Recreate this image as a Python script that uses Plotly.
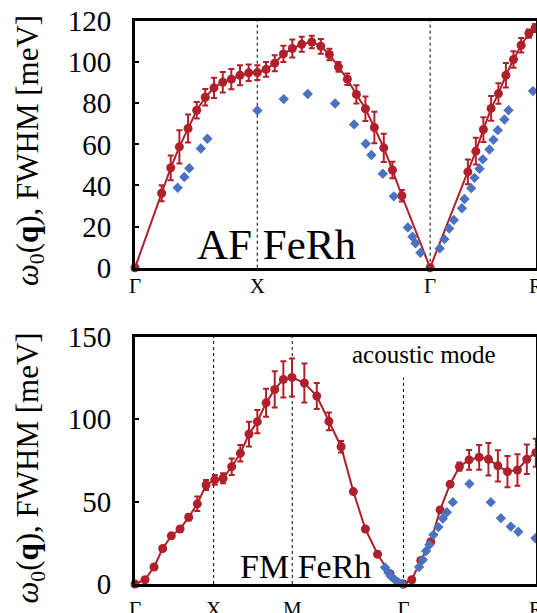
import math
import plotly.graph_objects as go

# ---------------- data: AF FeRh (top panel) ----------------
af_q = [0.0, 0.218, 0.292, 0.363, 0.434, 0.505, 0.575, 0.646, 0.718, 0.788, 0.859, 0.930,
        1.001, 1.072, 1.143, 1.214, 1.287, 1.364, 1.446, 1.520, 1.590, 1.664, 1.737, 1.811,
        1.885, 1.958, 2.035, 2.106, 2.183, 2.414, 2.723, 2.788, 2.850, 2.913, 2.973, 3.034,
        3.096, 3.159, 3.222, 3.273]
af_w = [0, 36.2, 48.6, 58.8, 67.7, 76.6, 82.9, 87.5, 90.2, 91.7, 93.6, 94.8,
        94.9, 96.5, 99.5, 104.0, 106.6, 108.7, 109.8, 107.7, 103.7, 97.7, 91.7, 84.3,
        77.3, 68.2, 58.3, 47.5, 35.0, 0, 46.6, 56.7, 67.2, 77.5, 84.7, 93.6,
        101.3, 108.2, 113.9, 116.6]
af_err = [0, 3.9, 6.0, 8.1, 6.8, 4.0, 4.0, 4.9, 5.0, 4.9, 4.9, 4.0,
          3.6, 3.6, 3.9, 4.0, 4.4, 3.6, 3.0, 3.6, 2.8, 2.4, 2.8, 4.4,
          6.0, 7.7, 6.9, 4.0, 2.8, 0, 6.0, 6.5, 6.0, 6.0, 5.0, 6.0,
          4.0, 3.5, 2.0, 2.0]
af_calc_q = [0.349, 0.403, 0.444, 0.538, 0.592, 1.001, 1.217, 1.413, 1.637, 1.792, 1.888,
             1.934, 2.027, 2.117, 2.232, 2.269, 2.294, 2.335, 2.493, 2.531, 2.570, 2.608,
             2.674, 2.695, 2.750, 2.777, 2.818, 2.845, 2.899, 2.932, 2.968, 3.022, 3.055, 3.255]
af_calc_w = [38.9, 44.1, 48.4, 58.0, 62.7, 76.5, 82.0, 84.5, 79.9, 69.7, 60.3,
             54.8, 45.7, 34.7, 19.6, 15.1, 11.9, 7.3, 9.4, 13.9, 19.1, 23.2,
             28.9, 33.4, 38.7, 43.7, 48.1, 52.7, 57.5, 62.2, 66.9, 72.1, 76.6, 85.9]
af_ticks = [0, 1, 1 + math.sqrt(2), 1 + math.sqrt(2) + math.sqrt(3) / 2]
af_labels = ["Γ", "X", "Γ", "R"]

# ---------------- data: FM FeRh (bottom panel) ----------------
fm_q = [0.0, 0.127, 0.242, 0.352, 0.462, 0.573, 0.683, 0.793, 0.903, 1.014, 1.120, 1.230,
        1.340, 1.450, 1.556, 1.667, 1.777, 1.887, 1.997, 2.154, 2.312, 2.466, 2.621, 2.777,
        2.930, 3.085, 3.244, 3.414, 3.520, 3.635, 3.762, 3.880, 4.008, 4.126, 4.249, 4.377,
        4.495, 4.615, 4.737, 4.864, 4.983, 5.098]
fm_w = [0, 2.6, 10.3, 21.5, 29.2, 33.3, 40.5, 48.6, 60.0, 63.1, 64.1, 71.1,
        79.2, 90.9, 98.4, 109.8, 117.9, 124.0, 125.2, 121.8, 113.9, 98.6, 83.2, 56.0,
        33.3, 18.0, 6.2, 0, 2.6, 14.3, 25.6, 44.9, 60.5, 71.1, 75.2, 76.8,
        75.6, 71.6, 68.1, 69.1, 75.6, 79.6]
fm_err = [0, 0, 0, 0, 0, 0, 2.0, 4.4, 3.0, 3.0, 3.0, 5.0,
          5.0, 7.5, 7.0, 8.5, 11.0, 11.0, 11.5, 11.8, 7.9, 5.4, 3.5, 0,
          0, 0, 0, 0, 0, 0, 0, 0, 0, 2.5, 6.0, 7.5,
          9.9, 9.5, 9.5, 9.5, 9.0, 8.5]
fm_calc_q = [3.181, 3.223, 3.257, 3.308, 3.352, 3.397, 3.613, 3.660, 3.702, 3.744, 3.795,
             3.859, 3.915, 3.966, 4.042, 4.253, 4.525, 4.653, 4.780, 4.875, 5.093]
fm_calc_w = [10.0, 7.0, 4.5, 2.5, 1.0, 0.0, 10.3, 14.7, 20.0, 23.8, 29.8,
             34.5, 39.7, 43.5, 49.6, 60.7, 49.6, 39.9, 34.8, 31.7, 27.7]
fm_ticks = [0, 1, 2, 2 + math.sqrt(2), 5.10]
fm_labels = ["Γ", "X", "M", "Γ", "R"]

RED = "#B0202A"
BLUE = "#4A72C0"
FONT = "Liberation Serif, DejaVu Serif, serif"

fig = go.Figure()

def add_panel(q, w, err, cq, cw, xa, ya):
    fig.add_trace(go.Scatter(
        x=q, y=w, mode="lines+markers", xaxis=xa, yaxis=ya,
        line=dict(color=RED, width=2),
        marker=dict(color=RED, size=9),
        error_y=dict(type="data", array=err, visible=True, color=RED, thickness=2, width=3),
        cliponaxis=False, showlegend=False))
    fig.add_trace(go.Scatter(
        x=cq, y=cw, mode="markers", xaxis=xa, yaxis=ya,
        marker=dict(color=BLUE, size=8, symbol="diamond"),
        cliponaxis=False, showlegend=False))

add_panel(af_q, af_w, af_err, af_calc_q, af_calc_w, "x", "y")
add_panel(fm_q, fm_w, fm_err, fm_calc_q, fm_calc_w, "x2", "y2")

axis_common = dict(showgrid=False, zeroline=False, showline=True, linecolor="black",
                   linewidth=3, mirror=True, automargin=False)
ytick_common = dict(ticks="inside", ticklen=4, tickwidth=2, tickcolor="black",
                    tickfont=dict(family=FONT, size=29, color="black"),
                    ticklabelstandoff=15)

fig.update_layout(
    width=537, height=613,
    margin=dict(l=135, r=1, t=21, b=29),
    paper_bgcolor="white", plot_bgcolor="white",
    font=dict(family=FONT, color="black"),
    xaxis=dict(domain=[0, 1], anchor="y", range=[0, af_ticks[-1]],
               tickmode="array", tickvals=af_ticks, ticktext=af_labels, ticks="",
               tickfont=dict(family=FONT, size=21, color="black"),
               ticklabelstandoff=-3, ticklabeloverflow="allow", **axis_common),
    yaxis=dict(domain=[0.5618, 1.0], anchor="x", range=[0, 120],
               tickmode="array", tickvals=[0, 20, 40, 60, 80, 100, 120],
               **ytick_common, **axis_common),
    xaxis2=dict(domain=[0, 1], anchor="y2", range=[0, 5.10],
                tickmode="array", tickvals=fm_ticks, ticktext=fm_labels, ticks="",
                tickfont=dict(family=FONT, size=21, color="black"),
                ticklabelstandoff=4, ticklabeloverflow="allow", **axis_common),
    yaxis2=dict(domain=[0, 0.4396], anchor="x2", range=[0, 150],
                tickmode="array", tickvals=[0, 50, 100, 150],
                **ytick_common, **axis_common),
)

# dotted vertical lines at high-symmetry points
for xv in [af_ticks[1], af_ticks[2]]:
    fig.add_shape(type="line", xref="x", yref="y", x0=xv, x1=xv, y0=0, y1=120,
                  line=dict(color="black", width=1, dash="dot"), layer="below")
for xv, ytop in [(fm_ticks[1], 150), (fm_ticks[2], 150), (fm_ticks[3], 125)]:
    fig.add_shape(type="line", xref="x2", yref="y2", x0=xv, x1=xv, y0=0, y1=ytop,
                  line=dict(color="black", width=1, dash="dot"), layer="below")

ytitle = "<i>ω</i><sub>0</sub>(<b>q</b>), FWHM [meV]"
fig.add_annotation(xref="paper", yref="paper", x=(30 - 135) / 401, y=0.769,
                   text=ytitle, textangle=-90, showarrow=False, xanchor="center",
                   yanchor="middle", font=dict(family=FONT, size=31, color="black"))
fig.add_annotation(xref="paper", yref="paper", x=(30 - 135) / 401, y=0.205,
                   text=ytitle, textangle=-90, showarrow=False, xanchor="center",
                   yanchor="middle", font=dict(family=FONT, size=31, color="black"))

fig.add_annotation(xref="x", yref="y", x=1.154, y=11.5, text="AF FeRh", showarrow=False,
                   xanchor="center", yanchor="middle",
                   font=dict(family=FONT, size=43, color="black"))
fig.add_annotation(xref="x2", yref="y2", x=2.163, y=10.5, text="FM FeRh", showarrow=False,
                   xanchor="center", yanchor="middle",
                   font=dict(family=FONT, size=34, color="black"))
fig.add_annotation(xref="x2", yref="y2", x=3.677, y=139.3, text="acoustic mode",
                   showarrow=False, xanchor="center", yanchor="middle",
                   font=dict(family=FONT, size=25, color="black"))

fig.write_html("out.html")
